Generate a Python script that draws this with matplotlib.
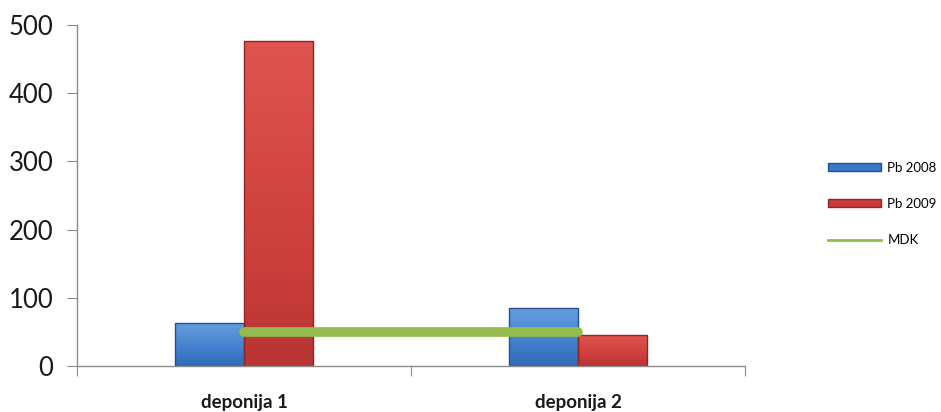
import numpy as np
import matplotlib
matplotlib.use("Agg")
import matplotlib.pyplot as plt
from matplotlib.colors import LinearSegmentedColormap
from matplotlib.lines import Line2D
from matplotlib.patches import Patch

plt.rcParams['font.family'] = ['Lato', 'DejaVu Sans']

categories = ['deponija 1', 'deponija 2']
pb_2008 = [63, 85]
pb_2009 = [476, 45]
mdk = [50, 50]
y_ticks = [0, 100, 200, 300, 400, 500]

blue = '#3b78c6'
red = '#c93c3a'
green = '#94bb4d'

fig = plt.figure(figsize=(9.41, 4.12), dpi=100)
ax = fig.add_axes([0.0818, 0.1117, 0.7099, 0.8277])

x = np.arange(len(categories))
w = 0.207


def shaded_bar(ax, xc, h, color, light, dark):
    bars = ax.bar(xc, h, width=w, color=color, edgecolor=dark, linewidth=1.0, zorder=2)
    cmap = LinearSegmentedColormap.from_list('g', [dark, color, light])
    for b in bars:
        x0, y0 = b.get_x(), b.get_y()
        bw, bh = b.get_width(), b.get_height()
        grad = np.linspace(0, 1, 64).reshape(-1, 1)
        grad = 0.35 + 0.55 * grad
        im = ax.imshow(grad, extent=[x0, x0 + bw, y0, y0 + bh], origin='lower',
                       cmap=cmap, vmin=0, vmax=1, aspect='auto', zorder=2.1)
        im.set_clip_path(b)
        b.set_facecolor('none')
        b.set_zorder(2.2)
    return bars


shaded_bar(ax, x - w / 2, pb_2008, blue, '#6ea6e6', '#24508f')
shaded_bar(ax, x + w / 2, pb_2009, red, '#e65a55', '#8f2624')

ax.plot(x, mdk, color=green, linewidth=7, solid_capstyle='round', zorder=3)

ax.set_xlim(-0.5, len(categories) - 0.5)
ax.set_ylim(0, 500)
ax.set_yticks(y_ticks)
ax.set_yticklabels([str(v) for v in y_ticks], fontsize=18.5, color='#1a1a1a')

ax.set_xticks([-0.5, 0.5, 1.5], minor=False)
ax.set_xticklabels([])
ax.set_xticks(x, minor=True)
ax.set_xticklabels(categories, minor=True, fontsize=13.5, fontweight='bold',
                   color='#1a1a1a')
ax.tick_params(axis='x', which='minor', length=0, pad=20)
ax.tick_params(axis='x', which='major', length=7, color='#8c8c8c', direction='out')
ax.tick_params(axis='y', length=7, color='#8c8c8c', direction='out', pad=10)

for s in ['top', 'right']:
    ax.spines[s].set_visible(False)
for s in ['left', 'bottom']:
    ax.spines[s].set_color('#8c8c8c')
    ax.spines[s].set_linewidth(1.0)

handles = [
    Patch(facecolor=blue, edgecolor='#24508f', label='Pb 2008'),
    Patch(facecolor=red, edgecolor='#8f2624', label='Pb 2009'),
    Line2D([0], [0], color=green, linewidth=2, label='MDK'),
]
fig.legend(handles=handles, loc='center left', bbox_to_anchor=(0.880, 0.505),
           frameon=False, fontsize=9.5, handlelength=4.0, handleheight=0.6,
           labelspacing=1.85, handletextpad=0.5, borderpad=0, borderaxespad=0)

fig.savefig('out.png', dpi=100)
